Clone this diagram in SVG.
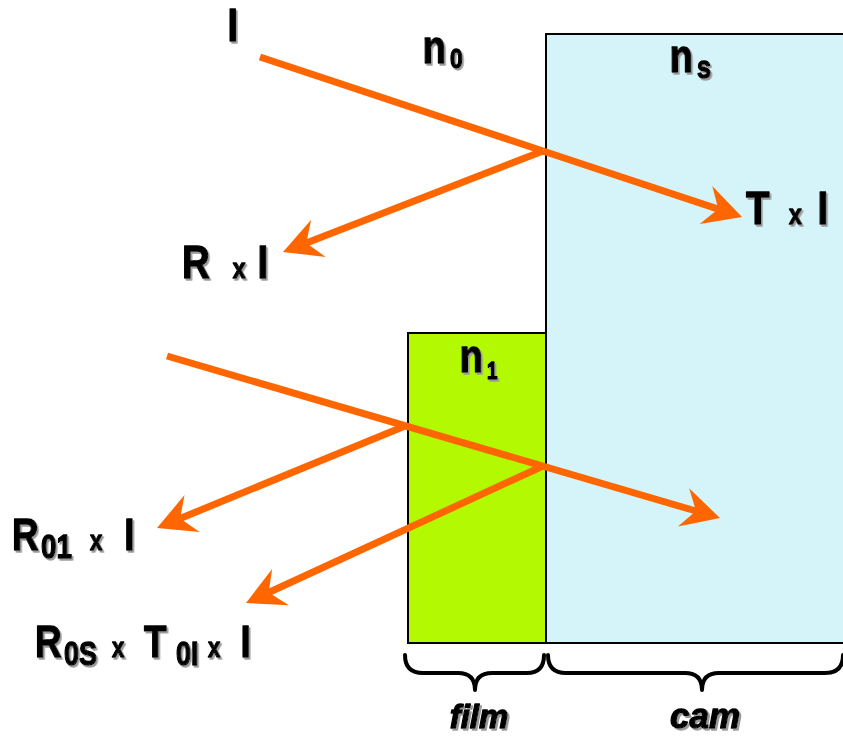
<svg xmlns="http://www.w3.org/2000/svg" width="843" height="738" viewBox="0 0 843 738">
<style>
.t{font-family:"Liberation Sans",Arial,sans-serif;font-weight:bold;fill:#000;stroke:#000;stroke-width:1.3;stroke-linejoin:round;filter:url(#sh)}
.ray{fill:none;stroke:#FF6600;stroke-width:7}
.box{stroke:#000;stroke-width:2}
.brace{fill:none;stroke:#000;stroke-width:4;stroke-linecap:round;stroke-linejoin:round}
</style>
<defs>
<filter id="sh" x="-20%" y="-20%" width="140%" height="140%"><feDropShadow dx="2" dy="2" stdDeviation="0.6" flood-color="#9a9a9a" flood-opacity="1"/></filter>
<marker id="ah" markerUnits="userSpaceOnUse" markerWidth="60" markerHeight="60" viewBox="-20 -30 60 60" refX="0" refY="0" orient="auto" overflow="visible"><path d="M25,0 L-13,-20 L0,0 L-13,20 Z" fill="#FF6600"/></marker>
</defs>
<g id="cam"><rect class="box" x="546" y="34" width="300" height="609" fill="#D5F4FA"/></g>
<g id="film"><rect class="box" x="408" y="333" width="138" height="310" fill="#B2F902"/></g>
<g id="braces">
<path class="brace" d="M405,655 Q405,673 423,673 L458,673 Q475,673 475,690 Q475,673 492,673 L527,673 Q544,673 544,655"/>
<path class="brace" d="M548,655 Q548,673 566,673 L685,673 Q702,673 702,690 Q702,673 719,673 L825,673 Q843,673 843,655"/>
</g>
<g id="connectors">
<path class="ray" d="M260,57 L543,151"/>
<path class="ray" d="M543,151 L718.3,209.1" marker-end="url(#ah)"/>
<path class="ray" d="M543,151 L306.3,243" marker-end="url(#ah)"/>
<path class="ray" d="M167,356 L696,511" marker-end="url(#ah)"/>
<path class="ray" d="M405,426 L180.1,518.5" marker-end="url(#ah)"/>
<path class="ray" d="M543,466 L268.7,592.5" marker-end="url(#ah)"/>
</g>
<g id="labels">
<text class="t" font-size="46" transform="translate(227.5,41) scale(0.82,1)">I</text>
<text class="t" font-size="47" transform="translate(422.5,63) scale(0.82,1)">n<tspan x="33.5" y="5" font-size="28">0</tspan></text>
<text class="t" font-size="47" transform="translate(669.5,72) scale(0.82,1)">n<tspan x="33.5" y="6" font-size="31">s</tspan></text>
<text class="t" font-size="47" transform="translate(459.5,372) scale(0.82,1)">n<tspan x="33.5" y="7" font-size="23">1</tspan></text>
<text class="t" font-size="47" transform="translate(182,278) scale(0.82,1)">R<tspan x="62" font-size="28">x</tspan><tspan x="92">I</tspan></text>
<text class="t" font-size="47" transform="translate(746,224) scale(0.82,1)">T<tspan x="52.4" font-size="28">x</tspan><tspan x="87.2">I</tspan></text>
<text class="t" font-size="45" transform="translate(12,550) scale(0.82,1)">R<tspan x="35.4" y="8" font-size="34">01</tspan><tspan x="95" y="0" font-size="27">x</tspan><tspan x="137" y="0">I</tspan></text>
<text class="t" font-size="45" transform="translate(35,657) scale(0.82,1)">R<tspan x="35.4" y="8" font-size="33">0S</tspan><tspan x="93.9" y="0" font-size="27">x</tspan><tspan x="133" y="0">T</tspan><tspan x="172" y="8" font-size="33">0I</tspan><tspan x="211" y="0" font-size="27">x</tspan><tspan x="250.6" y="0">I</tspan></text>
<text class="t" font-size="33" font-style="italic" text-anchor="middle" x="479" y="728">film</text>
<text class="t" font-size="35" font-style="italic" text-anchor="middle" x="705" y="728">cam</text>
</g>
</svg>
